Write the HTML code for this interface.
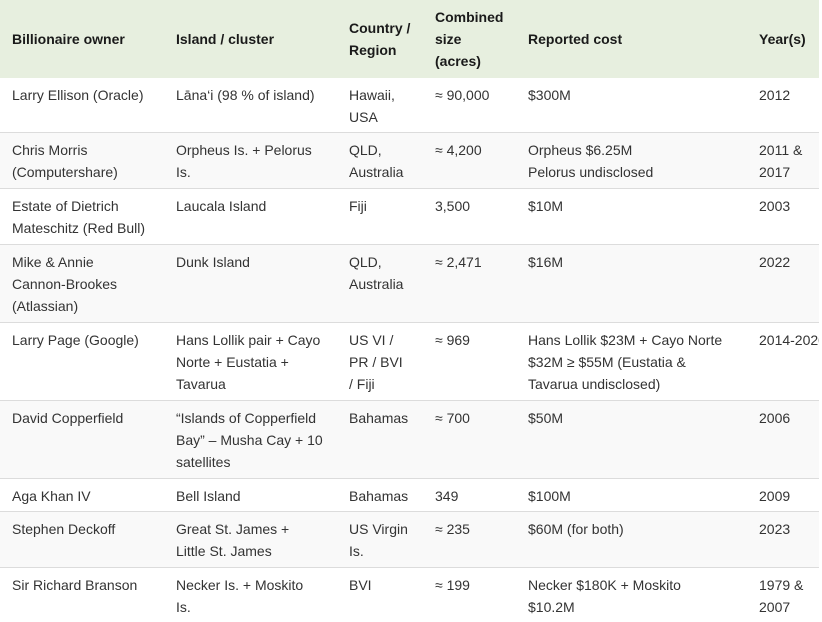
<!DOCTYPE html>
<html><head><meta charset="utf-8">
<style>
html,body{margin:0;padding:0;background:#fff;width:822px;height:622px;overflow:hidden;}
#t{position:absolute;left:0;top:0;width:819px;height:622px;overflow:hidden;font-family:"Liberation Sans",Arial,sans-serif;font-size:14px;line-height:22px;color:#333;}
.r{position:absolute;left:0;width:819px;border-bottom:1px solid #dcdcdc;box-sizing:border-box;}
.h{background:#e7efdf;color:#1a1a1a;font-weight:bold;border-bottom:none;}
.g{background:#f9f9f9;}
.c{position:absolute;top:6px;white-space:nowrap;}
.h .c{top:6px;}
.c1{left:12px}.c2{left:176px}.c3{left:349px}.c4{left:435px}.c5{left:528px}.c6{left:759px}
</style></head><body>
<div id="t">
<div class="r h" style="top:0;height:78px">
<div class="c c1" style="top:28px">Billionaire owner</div>
<div class="c c2" style="top:28px">Island / cluster</div>
<div class="c c3" style="top:17px">Country /<br>Region</div>
<div class="c c4">Combined<br>size<br>(acres)</div>
<div class="c c5" style="top:28px">Reported cost</div>
<div class="c c6" style="top:28px">Year(s)</div>
</div>
<div class="r" style="top:78px;height:55px">
<div class="c c1">Larry Ellison (Oracle)</div>
<div class="c c2">Lāna‘i (98 % of island)</div>
<div class="c c3">Hawaii,<br>USA</div>
<div class="c c4">≈ 90,000</div>
<div class="c c5">$300M</div>
<div class="c c6">2012</div>
</div>
<div class="r g" style="top:133px;height:56px">
<div class="c c1">Chris Morris<br>(Computershare)</div>
<div class="c c2">Orpheus Is. + Pelorus<br>Is.</div>
<div class="c c3">QLD,<br>Australia</div>
<div class="c c4">≈ 4,200</div>
<div class="c c5">Orpheus $6.25M<br>Pelorus undisclosed</div>
<div class="c c6">2011 &amp;<br>2017</div>
</div>
<div class="r" style="top:189px;height:56px">
<div class="c c1">Estate of Dietrich<br>Mateschitz (Red Bull)</div>
<div class="c c2">Laucala Island</div>
<div class="c c3">Fiji</div>
<div class="c c4">3,500</div>
<div class="c c5">$10M</div>
<div class="c c6">2003</div>
</div>
<div class="r g" style="top:245px;height:78px">
<div class="c c1">Mike &amp; Annie<br>Cannon-Brookes<br>(Atlassian)</div>
<div class="c c2">Dunk Island</div>
<div class="c c3">QLD,<br>Australia</div>
<div class="c c4">≈ 2,471</div>
<div class="c c5">$16M</div>
<div class="c c6">2022</div>
</div>
<div class="r" style="top:323px;height:78px">
<div class="c c1">Larry Page (Google)</div>
<div class="c c2">Hans Lollik pair + Cayo<br>Norte + Eustatia +<br>Tavarua</div>
<div class="c c3">US VI /<br>PR / BVI<br>/ Fiji</div>
<div class="c c4">≈ 969</div>
<div class="c c5">Hans Lollik $23M + Cayo Norte<br>$32M ≥ $55M (Eustatia &amp;<br>Tavarua undisclosed)</div>
<div class="c c6">2014-2020</div>
</div>
<div class="r g" style="top:401px;height:78px">
<div class="c c1">David Copperfield</div>
<div class="c c2">“Islands of Copperfield<br>Bay” – Musha Cay + 10<br>satellites</div>
<div class="c c3">Bahamas</div>
<div class="c c4">≈ 700</div>
<div class="c c5">$50M</div>
<div class="c c6">2006</div>
</div>
<div class="r" style="top:479px;height:33px">
<div class="c c1">Aga Khan IV</div>
<div class="c c2">Bell Island</div>
<div class="c c3">Bahamas</div>
<div class="c c4">349</div>
<div class="c c5">$100M</div>
<div class="c c6">2009</div>
</div>
<div class="r g" style="top:512px;height:56px">
<div class="c c1">Stephen Deckoff</div>
<div class="c c2">Great St. James +<br>Little St. James</div>
<div class="c c3">US Virgin<br>Is.</div>
<div class="c c4">≈ 235</div>
<div class="c c5">$60M (for both)</div>
<div class="c c6">2023</div>
</div>
<div class="r" style="top:568px;height:60px;border-bottom:none">
<div class="c c1">Sir Richard Branson</div>
<div class="c c2">Necker Is. + Moskito<br>Is.</div>
<div class="c c3">BVI</div>
<div class="c c4">≈ 199</div>
<div class="c c5">Necker $180K + Moskito<br>$10.2M</div>
<div class="c c6">1979 &amp;<br>2007</div>
</div>
</div>
</body></html>
